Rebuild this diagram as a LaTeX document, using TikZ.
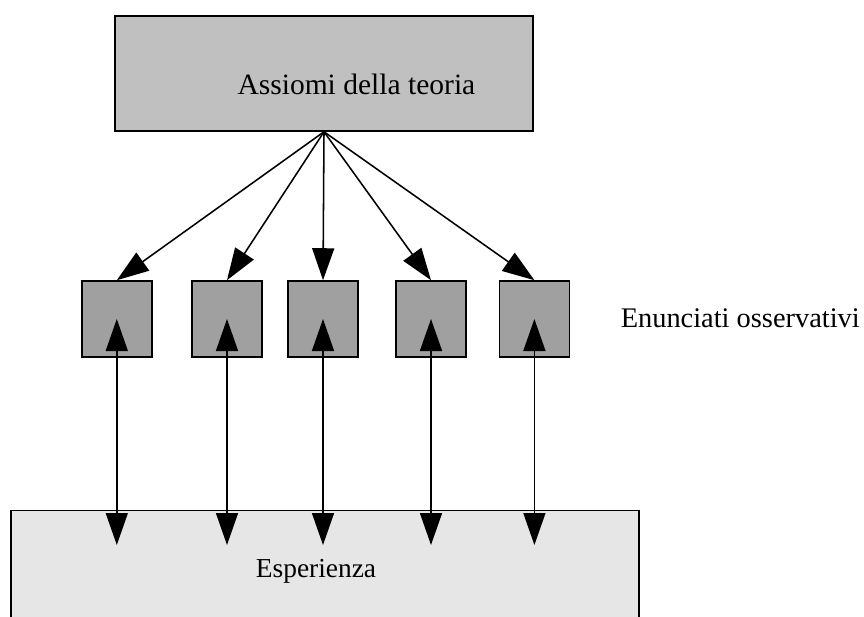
\documentclass[tikz,border=0pt]{standalone}
\usepackage{fontspec}
\setmainfont{Liberation Serif}
\usetikzlibrary{arrows.meta}
\definecolor{axgray}{HTML}{C0C0C0}
\definecolor{enugray}{HTML}{A0A0A0}
\definecolor{expgray}{HTML}{E6E6E6}
\begin{document}
\begin{tikzpicture}[>={Triangle[length=.8cm,width=.55cm]},line width=1.1pt,font=\fontsize{21}{25}\selectfont]
            \clip (0,0) rectangle (21.6,-15.425);
            \node[draw,fill=axgray,minimum width=10.45cm,minimum height=2.875cm] at (8.1,-1.8375)(ax){};
            \node at (8.91,-2.1)(axtext){Assiomi della teoria};
            \node[draw,fill=expgray,minimum width=15.7cm,minimum height=4cm,anchor=north west] at (0.25,-12.74)(exp){};
            \node[font=\fontsize{19.5}{23}\selectfont] at (7.9,-14.275)(exptext){Esperienza};
            \foreach \x [count=\i] in {2.92,5.675,8.075,10.775,13.36}{
                \node[draw,fill=enugray,minimum width=1.75cm,minimum height=1.9cm] at (\x,-7.975)(e\i){};
                \coordinate (d\i) at (\x,-13.625);
                \path[draw,->] (ax.south) -- (e\i.north);
                \path[draw,<->] (e\i.center) -- (d\i);
            }
            \node[anchor=west,inner sep=0pt,font=\fontsize{20.2}{24}\selectfont] at (15.5,-7.95)(enu){Enunciati osservativi};
        \end{tikzpicture}
\end{document}
